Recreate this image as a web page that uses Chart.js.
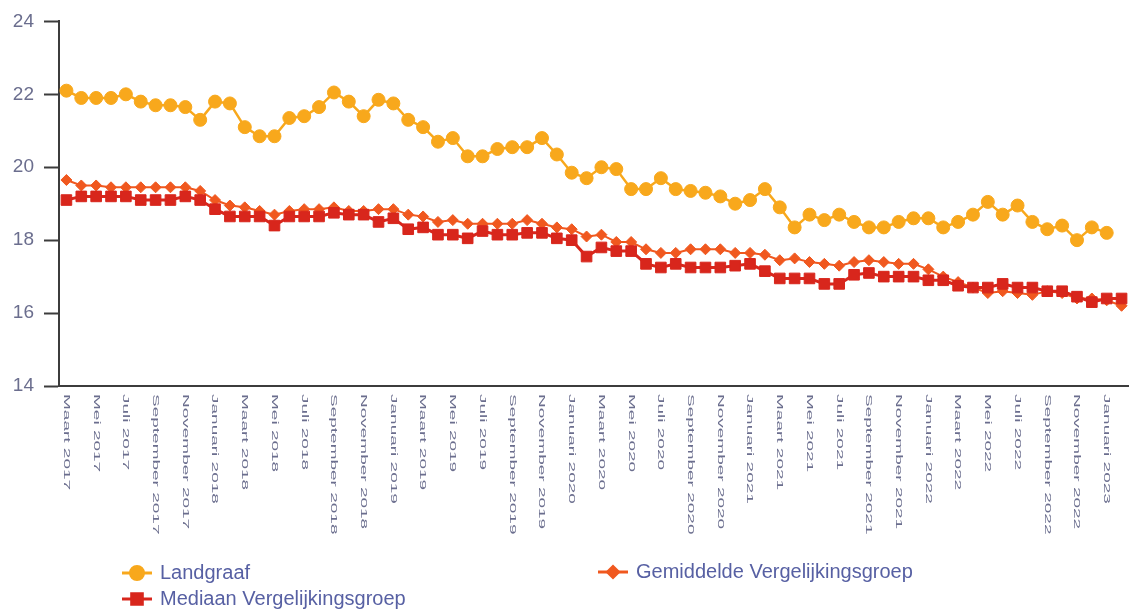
<!DOCTYPE html>
<html>
<head>
<meta charset="utf-8">
<script src="https://cdn.jsdelivr.net/npm/chart.js@4/dist/chart.umd.min.js"></script>
<style>
  html, body { margin: 0; padding: 0; background: #ffffff; }
  #wrap { position: relative; width: 1129px; height: 611px; }
</style>
</head>
<body>
<div id="wrap"><canvas id="c" width="1129" height="611"></canvas></div>
<script>
const months = [
  "Maart 2017","April 2017","Mei 2017","Juni 2017","Juli 2017","Augustus 2017","September 2017","Oktober 2017","November 2017","December 2017",
  "Januari 2018","Februari 2018","Maart 2018","April 2018","Mei 2018","Juni 2018","Juli 2018","Augustus 2018","September 2018","Oktober 2018","November 2018","December 2018",
  "Januari 2019","Februari 2019","Maart 2019","April 2019","Mei 2019","Juni 2019","Juli 2019","Augustus 2019","September 2019","Oktober 2019","November 2019","December 2019",
  "Januari 2020","Februari 2020","Maart 2020","April 2020","Mei 2020","Juni 2020","Juli 2020","Augustus 2020","September 2020","Oktober 2020","November 2020","December 2020",
  "Januari 2021","Februari 2021","Maart 2021","April 2021","Mei 2021","Juni 2021","Juli 2021","Augustus 2021","September 2021","Oktober 2021","November 2021","December 2021",
  "Januari 2022","Februari 2022","Maart 2022","April 2022","Mei 2022","Juni 2022","Juli 2022","Augustus 2022","September 2022","Oktober 2022","November 2022","December 2022",
  "Januari 2023","Februari 2023"
];

const landgraaf = [
  22.1,21.9,21.9,21.9,22.0,21.8,21.7,21.7,21.65,21.3,
  21.8,21.75,21.1,20.85,20.85,21.35,21.4,21.65,22.05,21.8,
  21.4,21.85,21.75,21.3,21.1,20.7,20.8,20.3,20.3,20.5,
  20.55,20.55,20.8,20.35,19.85,19.7,20.0,19.95,19.4,19.4,
  19.7,19.4,19.35,19.3,19.2,19.0,19.1,19.4,18.9,18.35,
  18.7,18.55,18.7,18.5,18.35,18.35,18.5,18.6,18.6,18.35,
  18.5,18.7,19.05,18.7,18.95,18.5,18.3,18.4,18.0,18.35,
  18.2,null
];

const gemiddelde = [
  19.65,19.5,19.5,19.45,19.45,19.45,19.45,19.45,19.45,19.35,
  19.1,18.95,18.9,18.8,18.7,18.8,18.85,18.85,18.9,18.8,
  18.8,18.85,18.85,18.7,18.65,18.5,18.55,18.45,18.45,18.45,
  18.45,18.55,18.45,18.35,18.3,18.1,18.15,17.95,17.95,17.75,
  17.65,17.65,17.75,17.75,17.75,17.65,17.65,17.6,17.45,17.5,
  17.4,17.35,17.3,17.4,17.45,17.4,17.35,17.35,17.2,17.0,
  16.85,16.7,16.55,16.6,16.55,16.5,16.6,16.55,16.4,16.4,
  16.35,16.2
];

const mediaan = [
  19.1,19.2,19.2,19.2,19.2,19.1,19.1,19.1,19.2,19.1,
  18.85,18.65,18.65,18.65,18.4,18.65,18.65,18.65,18.75,18.7,
  18.7,18.5,18.6,18.3,18.35,18.15,18.15,18.05,18.25,18.15,
  18.15,18.2,18.2,18.05,18.0,17.55,17.8,17.7,17.7,17.35,
  17.25,17.35,17.25,17.25,17.25,17.3,17.35,17.15,16.95,16.95,
  16.95,16.8,16.8,17.05,17.1,17.0,17.0,17.0,16.9,16.9,
  16.75,16.7,16.7,16.8,16.7,16.7,16.6,16.6,16.45,16.3,
  16.4,16.4
];

const yTicks = [14, 16, 18, 20, 22, 24];

const FONT = "'Liberation Sans', Arial, Helvetica, sans-serif";
const TEXT_COLOR = '#6b6e8e';
const LEGEND_COLOR = '#5760a3';
const AXIS_COLOR = '#3c3c3c';

const COL_LANDGRAAF = '#f8a81c';
const COL_GEMIDDELDE = '#f0581f';
const COL_MEDIAAN = '#d8261c';

// Rotated (clockwise) x labels, drawn at positions from the x scale
const xLabelPlugin = {
  id: 'xLabels',
  afterDraw(chart) {
    const xs = chart.scales.x;
    const ctx = chart.ctx;
    ctx.save();
    ctx.fillStyle = TEXT_COLOR;
    ctx.font = '9.5px ' + FONT;
    ctx.textAlign = 'left';
    ctx.textBaseline = 'middle';
    for (let i = 0; i < months.length; i += 2) {
      const x = xs.getPixelForValue(i);
      ctx.save();
      ctx.translate(x, xs.top + 8);
      ctx.rotate(Math.PI / 2);
      ctx.scale(2, 1);
      ctx.fillText(months[i], 0, 0);
      ctx.restore();
    }
    ctx.restore();
  }
};

// Two-column legend below the chart
const legendPlugin = {
  id: 'gridLegend',
  afterDraw(chart) {
    const ctx = chart.ctx;
    const ds = chart.data.datasets;
    const slots = [
      { idx: 0, x: 122, y: 573 },
      { idx: 1, x: 598, y: 572 },
      { idx: 2, x: 122, y: 599 }
    ];
    ctx.save();
    slots.forEach(s => {
      const d = ds[s.idx];
      ctx.strokeStyle = d.borderColor;
      ctx.lineWidth = 3;
      ctx.beginPath();
      ctx.moveTo(s.x, s.y);
      ctx.lineTo(s.x + 30, s.y);
      ctx.stroke();
      ctx.fillStyle = d.backgroundColor;
      Chart.helpers.drawPoint(ctx, {
        pointStyle: d.pointStyle,
        radius: d.pointRadius,
        borderWidth: 1
      }, s.x + 15, s.y);
      ctx.fillStyle = LEGEND_COLOR;
      ctx.font = '20px ' + FONT;
      ctx.textAlign = 'left';
      ctx.textBaseline = 'middle';
      ctx.fillText(d.label, s.x + 38, s.y);
    });
    ctx.restore();
  }
};

new Chart(document.getElementById('c'), {
  type: 'line',
  data: {
    labels: months,
    datasets: [
      {
        label: 'Landgraaf',
        data: landgraaf,
        borderColor: COL_LANDGRAAF,
        backgroundColor: COL_LANDGRAAF,
        borderWidth: 2.5,
        pointStyle: 'circle',
        pointRadius: 6.5,
        pointBorderWidth: 1,
        tension: 0,
        order: 2
      },
      {
        label: 'Gemiddelde Vergelijkingsgroep',
        data: gemiddelde,
        borderColor: COL_GEMIDDELDE,
        backgroundColor: COL_GEMIDDELDE,
        borderWidth: 2,
        pointStyle: 'rectRot',
        pointRadius: 5.5,
        pointBorderWidth: 1,
        tension: 0,
        order: 1
      },
      {
        label: 'Mediaan Vergelijkingsgroep',
        data: mediaan,
        borderColor: COL_MEDIAAN,
        backgroundColor: COL_MEDIAAN,
        borderWidth: 3,
        pointStyle: 'rect',
        pointRadius: 7.5,
        pointBorderWidth: 1,
        tension: 0,
        order: 0
      }
    ]
  },
  options: {
    responsive: false,
    animation: false,
    devicePixelRatio: 1,
    layout: { autoPadding: false, padding: { top: 17, right: 0, left: 0, bottom: 0 } },
    plugins: {
      legend: { display: false },
      tooltip: { enabled: false }
    },
    scales: {
      x: {
        type: 'category',
        offset: true,
        grid: { display: false },
        border: { display: true, color: AXIS_COLOR, width: 2 },
        ticks: { display: false },
        afterFit(scale) { scale.height = 611 - 386; }
      },
      y: {
        min: 14,
        max: 24,
        afterBuildTicks(scale) { scale.ticks = yTicks.map(v => ({ value: v })); },
        grid: {
          display: true,
          drawOnChartArea: false,
          drawTicks: true,
          tickLength: 15,
          tickWidth: 2,
          tickColor: AXIS_COLOR
        },
        border: { display: true, color: AXIS_COLOR, width: 2 },
        ticks: {
          color: TEXT_COLOR,
          font: { family: FONT, size: 19 },
          padding: 10
        },
        afterFit(scale) { scale.width = 59; }
      }
    }
  },
  plugins: [xLabelPlugin, legendPlugin]
});
</script>
</body>
</html>
